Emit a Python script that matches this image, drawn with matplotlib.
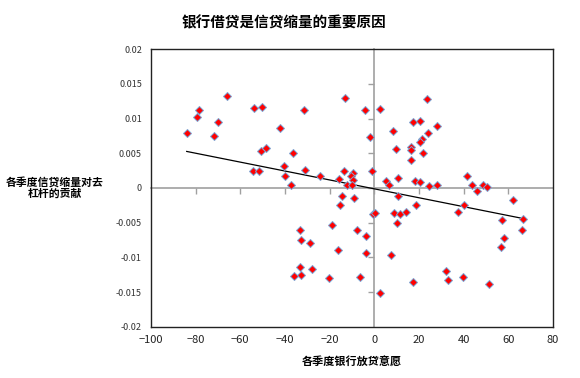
import numpy as np
import matplotlib
matplotlib.use("Agg")
import matplotlib.pyplot as plt

plt.rcParams['font.family'] = ['Noto Sans CJK SC', 'DejaVu Sans']

# bank lending willingness (x) vs contribution of credit contraction to deleveraging (y)
lend_will = [
    -84.0, -79.4, -78.4, -65.8, -71.9, -69.9, -54.0, -50.3, -31.3, -42.2,
    -50.7, -48.6, -36.5, -54.5, -51.6, -40.4, -39.9, -37.4, -30.9, -24.2,
    -13.0, -15.9, -13.7, -9.4, -10.3, -9.7, -12.4, -10.0, -14.6, -9.0,
    -4.3, 2.4, 23.6, -1.8, 8.4, 17.3, 20.6, 27.9, 24.2, 21.4,
    20.3, 9.6, 16.3, 16.3, 21.7, 16.3, -0.9, 5.2, 6.7, 10.5,
    18.4, 20.3, 24.5, 28.1, 41.4, 43.6, 46.1, 48.8, 50.3, 10.7,
    62.1,
    -15.5, -18.8, -7.6, -33.4, -33.0, -28.8, -16.1, -33.4, -27.9, -32.8,
    -36.1, -20.4, -6.3,
    18.7, 40.2, 37.5, 66.7, 57.0, 66.3, 58.1, 56.6, -0.4, 0.4,
    8.7, 11.6, 14.3, 10.2, -3.9, -3.9, 7.6, 32.2, 33.1, 39.9,
    17.5, 51.2, 2.4,
]
credit_contrib = [
    0.0079, 0.0103, 0.0113, 0.0133, 0.0075, 0.0095, 0.0116, 0.0117, 0.0113, 0.0086,
    0.0054, 0.0057, 0.0051, 0.0025, 0.0025, 0.0031, 0.0017, 0.0005, 0.0026, 0.0018,
    0.0130, 0.0013, 0.0025, 0.0022, 0.0017, 0.0011, 0.0004, 0.0004, -0.0011, -0.0015,
    0.0112, 0.0114, 0.0128, 0.0073, 0.0082, 0.0095, 0.0096, 0.0090, 0.0079, 0.0071,
    0.0066, 0.0056, 0.0059, 0.0055, 0.0051, 0.0041, 0.0024, 0.0010, 0.0005, 0.0014,
    0.0010, 0.0008, 0.0003, 0.0004, 0.0017, 0.0004, -0.0005, 0.0004, 0.0001, -0.0011,
    -0.0017,
    -0.0025, -0.0054, -0.0060, -0.0060, -0.0075, -0.0080, -0.0090, -0.0114, -0.0117, -0.0125,
    -0.0127, -0.0130, -0.0129,
    -0.0025, -0.0025, -0.0034, -0.0044, -0.0046, -0.0061, -0.0072, -0.0085, -0.0037, -0.0036,
    -0.0036, -0.0037, -0.0034, -0.0051, -0.0069, -0.0094, -0.0097, -0.0119, -0.0132, -0.0129,
    -0.0136, -0.0138, -0.0151,
]

x_ticks = [-100, -80, -60, -40, -20, 0, 20, 40, 60, 80]
y_ticks = [0.02, 0.015, 0.01, 0.005, 0, -0.005, -0.01, -0.015, -0.02]
y_tick_labels = ['0.02', '0.015', '0.01', '0.005', '0', '-0.005', '-0.01', '-0.015', '-0.02']

x = np.array(lend_will)
y = np.array(credit_contrib)

fig = plt.figure(figsize=(5.8, 3.78), dpi=100)
ax = fig.add_axes([0.2603, 0.1357, 0.6931, 0.7339])
ax.set_xlim(-100, 80)
ax.set_ylim(-0.02, 0.02)

# linear trend line
k, b = np.polyfit(x, y, 1)
xs = np.array([x.min(), x.max()])
ax.plot(xs, k * xs + b, color='black', lw=0.9, zorder=3)

ax.plot(x, y, linestyle='none', marker='D', ms=3.7, mfc='#ff0000',
        mec='#7aa6d6', mew=0.7, zorder=4)

# outer frame and tick labels
for s in ax.spines.values():
    s.set_color('#222222')
    s.set_linewidth(1.0)
ax.set_xticks(x_ticks)
ax.set_yticks(y_ticks)
ax.set_yticklabels(y_tick_labels)
ax.tick_params(axis='both', length=0)
ax.tick_params(axis='x', labelsize=8, pad=6, colors='#222222')
ax.tick_params(axis='y', labelsize=6.5, pad=6.5, colors='#333333')

# axes crossing at zero
xfrac = (0 - ax.get_xlim()[0]) / (ax.get_xlim()[1] - ax.get_xlim()[0])
yfrac = (0 - ax.get_ylim()[0]) / (ax.get_ylim()[1] - ax.get_ylim()[0])
secx = ax.secondary_xaxis(yfrac)
secx.set_alignment('bottom')
secx.set_xticks(x_ticks[1:-1])
secx.tick_params(length=4, width=1, color='#a0a0a0', labelbottom=False, direction='out')
secx.spines['bottom'].set_color('#a0a0a0')
secx.spines['bottom'].set_linewidth(1.2)
secy = ax.secondary_yaxis(xfrac)
secy.set_alignment('left')
secy.set_yticks(y_ticks[1:-1])
secy.tick_params(length=4, width=1, color='#a0a0a0', labelleft=False, direction='out')
secy.spines['left'].set_color('#a0a0a0')
secy.spines['left'].set_linewidth(1.2)

fig.text(0.49, 0.94, '银行借贷是信贷缩量的重要原因', ha='center', va='center',
         fontsize=10.5, fontweight='bold')
fig.text(0.5 * (0.2603 + 0.9534), 0.043, '各季度银行放贷意愿', ha='center', va='center',
         fontsize=8, fontweight='bold')
fig.text(0.094, 0.503, '各季度信贷缩量对去\n杠杆的贡献', ha='center', va='center',
         fontsize=7.8, fontweight='bold', linespacing=1.05)

fig.savefig('out.png', dpi=100)
